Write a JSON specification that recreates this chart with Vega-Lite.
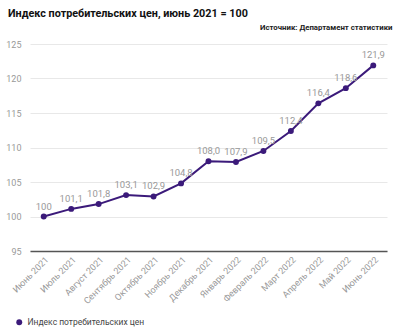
{
  "$schema": "https://vega.github.io/schema/vega-lite/v6.json",
  "width": 357,
  "height": 207,
  "autosize": {"type": "none"},
  "padding": {"left": 30, "top": 44, "right": 13, "bottom": 82},
  "background": "white",
  "title": {
    "text": "Индекс потребительских цен, июнь 2021 = 100",
    "anchor": "start",
    "frame": "group",
    "font": "Roboto",
    "fontSize": 10.8,
    "fontWeight": "bold",
    "color": "#111111",
    "dx": -22,
    "offset": 4
  },
  "data": {
    "values": [
      {"month": "Июнь 2021", "value": 100, "label": "100", "series": "Индекс потребительских цен"},
      {"month": "Июль 2021", "value": 101.1, "label": "101,1", "series": "Индекс потребительских цен"},
      {"month": "Август 2021", "value": 101.8, "label": "101,8", "series": "Индекс потребительских цен"},
      {"month": "Сентябрь 2021", "value": 103.1, "label": "103,1", "series": "Индекс потребительских цен"},
      {"month": "Октябрь 2021", "value": 102.9, "label": "102,9", "series": "Индекс потребительских цен"},
      {"month": "Ноябрь 2021", "value": 104.8, "label": "104,8", "series": "Индекс потребительских цен"},
      {"month": "Декабрь 2021", "value": 108.0, "label": "108,0", "series": "Индекс потребительских цен"},
      {"month": "Январь 2022", "value": 107.9, "label": "107,9", "series": "Индекс потребительских цен"},
      {"month": "Февраль 2022", "value": 109.5, "label": "109,5", "series": "Индекс потребительских цен"},
      {"month": "Март 2022", "value": 112.4, "label": "112,4", "series": "Индекс потребительских цен"},
      {"month": "Апрель 2022", "value": 116.4, "label": "116,4", "series": "Индекс потребительских цен"},
      {"month": "Май 2022", "value": 118.6, "label": "118,6", "series": "Индекс потребительских цен"},
      {"month": "Июнь 2022", "value": 121.9, "label": "121,9", "series": "Индекс потребительских цен"}
    ]
  },
  "encoding": {
    "y": {
      "field": "value",
      "type": "quantitative",
      "scale": {"domain": [95, 125], "nice": false, "zero": false},
      "axis": {
        "title": null,
        "values": [95, 100, 105, 110, 115, 120, 125],
        "ticks": false,
        "domain": false,
        "labelColor": "#999999",
        "labelFont": "Roboto",
        "labelFontSize": 9,
        "labelPadding": 9,
        "gridColor": "#e8e8e8",
        "gridWidth": 1
      }
    }
  },
  "layer": [
    {
      "mark": {"type": "line", "color": "#3b1a7a", "strokeWidth": 2},
      "encoding": {
        "x": {
          "field": "month",
          "type": "ordinal",
          "sort": null,
          "scale": {"type": "point", "padding": 0.5},
          "axis": {
            "title": null,
            "labelAngle": -45,
            "labelColor": "#999999",
            "labelFont": "Roboto",
            "labelFontSize": 9,
            "labelPadding": 4,
            "ticks": false,
            "grid": false,
            "domainColor": "#555555",
            "domainWidth": 1.5
          }
        }
      }
    },
    {
      "mark": {"type": "point", "filled": true, "size": 35, "opacity": 1},
      "encoding": {
        "x": {"field": "month", "type": "ordinal", "sort": null, "axis": null},
        "color": {
          "field": "series",
          "type": "nominal",
          "scale": {"range": ["#3b1a7a"]},
          "legend": {
            "title": null,
            "orient": "none",
            "legendX": -15,
            "legendY": 274,
            "symbolType": "circle",
            "symbolSize": 35,
            "labelFont": "Roboto",
            "labelFontSize": 8.5,
            "labelColor": "#444444"
          }
        }
      }
    },
    {
      "mark": {"type": "text", "dy": -10, "color": "#999999", "font": "Roboto", "fontSize": 9.5},
      "encoding": {
        "text": {"field": "label"},
        "x": {
          "field": "month",
          "type": "ordinal",
          "sort": null,
          "axis": {
            "orient": "top",
            "labels": false,
            "ticks": false,
            "domain": false,
            "grid": false,
            "title": "Источник: Департамент статистики",
            "titleAnchor": "end",
            "titleAlign": "right",
            "titleX": 362,
            "titleFont": "Roboto",
            "titleFontSize": 7.8,
            "titleFontWeight": "bold",
            "titleColor": "#222222",
            "titlePadding": 13
          }
        }
      }
    }
  ],
  "resolve": {"axis": {"x": "independent"}},
  "config": {"view": {"stroke": null}}
}
